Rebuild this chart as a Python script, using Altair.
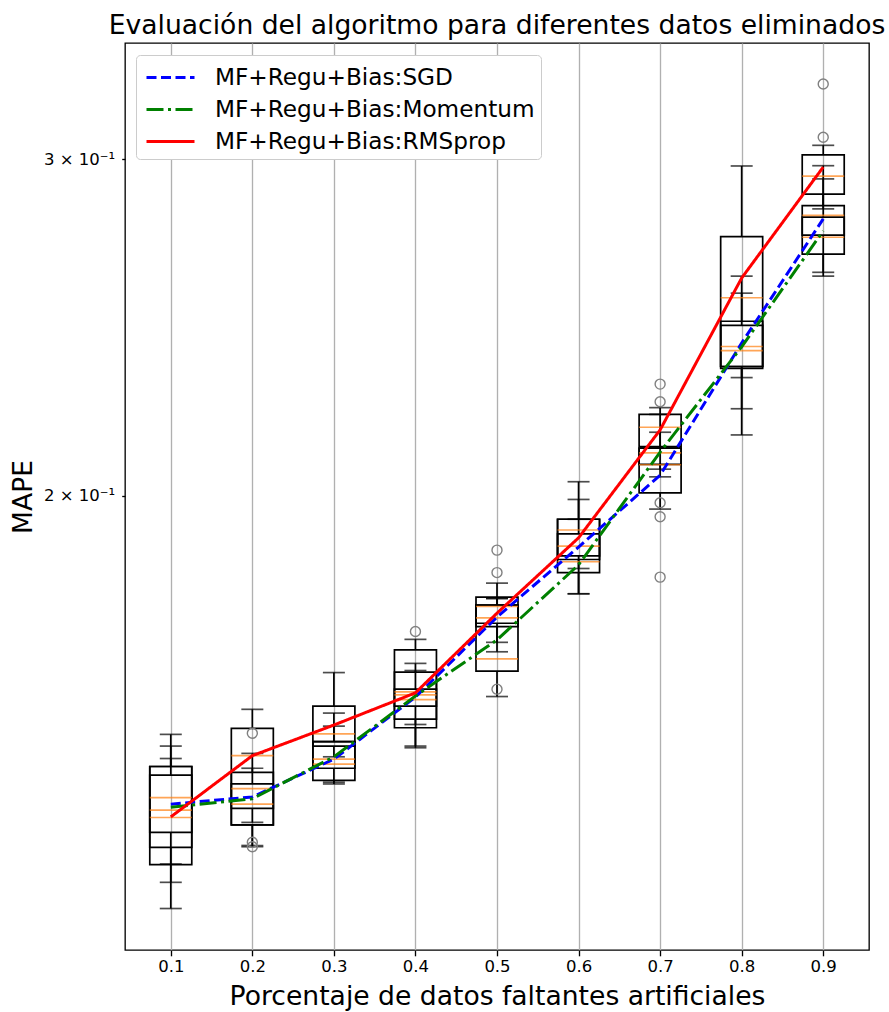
import altair as alt
import pandas as pd

positions = [0.1, 0.2, 0.3, 0.4, 0.5, 0.6, 0.7, 0.8, 0.9]
methods = ["MF+Regu+Bias:SGD", "MF+Regu+Bias:Momentum", "MF+Regu+Bias:RMSprop"]
colors = ["#0000ff", "#008000", "#ff0000"]

# Box statistics per method (whisker low, q1, median, q3, whisker high)
sgd_lo = [0.1216, 0.1349, 0.1416, 0.1479, 0.1657, 0.1832, 0.1968, 0.2221, 0.2618]
sgd_q1 = [0.1309, 0.1372, 0.1440, 0.1528, 0.1708, 0.1860, 0.2007, 0.2332, 0.2738]
sgd_med = [0.1390, 0.1405, 0.1456, 0.1573, 0.1726, 0.1882, 0.2076, 0.2394, 0.2804]
sgd_q3 = [0.1443, 0.1433, 0.1487, 0.1617, 0.1753, 0.1944, 0.2118, 0.2468, 0.2837]
sgd_hi = [0.1500, 0.1466, 0.1539, 0.1634, 0.1767, 0.1944, 0.2206, 0.2606, 0.2977]

mom_lo = [0.1283, 0.1312, 0.1413, 0.1476, 0.1570, 0.1777, 0.2065, 0.2306, 0.2606]
mom_q1 = [0.1333, 0.1345, 0.1419, 0.1512, 0.1619, 0.1823, 0.2077, 0.2337, 0.2676]
mom_med = [0.1369, 0.1379, 0.1447, 0.1564, 0.1643, 0.1847, 0.2106, 0.2382, 0.2731]
mom_q3 = [0.1443, 0.1413, 0.1487, 0.1584, 0.1770, 0.1910, 0.2118, 0.2456, 0.2798]
mom_hi = [0.1479, 0.1440, 0.1515, 0.1620, 0.1800, 0.1991, 0.2159, 0.2553, 0.2930]

rms_lo = [0.1255, 0.1310, 0.1460, 0.1518, 0.1676, 0.1777, 0.2046, 0.2152, 0.2826]
rms_q1 = [0.1282, 0.1345, 0.1479, 0.1552, 0.1715, 0.1852, 0.2122, 0.2337, 0.2877]
rms_med = [0.1357, 0.1462, 0.1501, 0.1579, 0.1750, 0.1919, 0.2172, 0.2539, 0.2940]
rms_q3 = [0.1428, 0.1511, 0.1552, 0.1661, 0.1753, 0.1944, 0.2206, 0.2733, 0.3016]
rms_hi = [0.1457, 0.1546, 0.1616, 0.1682, 0.1767, 0.2034, 0.2224, 0.2976, 0.3051]

# Outliers (position, value)
sgd_out_pos = [0.2, 0.2, 0.2, 0.4, 0.9, 0.9]
sgd_out_val = [0.1502, 0.1317, 0.1310, 0.1698, 0.3285, 0.3081]
mom_out_pos = [0.7, 0.7, 0.7, 0.7, 0.7]
mom_out_val = [0.2288, 0.2240, 0.1983, 0.1950, 0.1813]
rms_out_pos = [0.5, 0.5, 0.5]
rms_out_val = [0.1873, 0.1823, 0.1584]

# Mean lines
sgd_mean = [0.1379, 0.1391, 0.1456, 0.1569, 0.1728, 0.1880, 0.2050, 0.2404, 0.2792]
mom_mean = [0.1374, 0.1388, 0.1460, 0.1571, 0.1681, 0.1840, 0.2108, 0.2393, 0.2752]
rms_mean = [0.1358, 0.1462, 0.1517, 0.1577, 0.1736, 0.1901, 0.2165, 0.2600, 0.2972]

stats = {
    methods[0]: (sgd_lo, sgd_q1, sgd_med, sgd_q3, sgd_hi),
    methods[1]: (mom_lo, mom_q1, mom_med, mom_q3, mom_hi),
    methods[2]: (rms_lo, rms_q1, rms_med, rms_q3, rms_hi),
}
box_rows = []
for m, (lo, q1, med, q3, hi) in stats.items():
    for i, p in enumerate(positions):
        box_rows.append(dict(method=m, pos=p, lo=lo[i], q1=q1[i], med=med[i], q3=q3[i], hi=hi[i]))
box_df = pd.DataFrame(box_rows)

out_rows = []
for m, (ps, vs) in zip(methods, [(sgd_out_pos, sgd_out_val), (mom_out_pos, mom_out_val), (rms_out_pos, rms_out_val)]):
    for p, v in zip(ps, vs):
        out_rows.append(dict(method=m, pos=p, val=v))
out_df = pd.DataFrame(out_rows)

line_rows = []
for m, means in zip(methods, [sgd_mean, mom_mean, rms_mean]):
    for p, v in zip(positions, means):
        line_rows.append(dict(method=m, pos=p, mean=v))
line_df = pd.DataFrame(line_rows)

FONT = "DejaVu Sans"
xscale = alt.Scale(domain=[0.05, 0.95], nice=False, zero=False)
yscale = alt.Scale(type="log", domain=[0.11567, 0.34515], nice=False)

xaxis = alt.Axis(
    values=positions, format=".1f", grid=True, gridColor="#b0b0b0", gridWidth=1.33,
    domain=False, tickColor="black", tickSize=5.8, tickWidth=1.33,
    labelFontSize=16.5, labelFont=FONT, labelColor="black", labelPadding=3,
    title="Porcentaje de datos faltantes artificiales", titleFontSize=26.6,
    titleFont=FONT, titleFontWeight="normal", titleColor="black",
    titleBaseline="alphabetic", titleY=54,
)
yaxis = alt.Axis(
    values=[0.2, 0.3],
    labelExpr="datum.value < 0.25 ? '2 × 10⁻¹' : '3 × 10⁻¹'",
    grid=False, domain=False, tickColor="black", tickSize=3.3, tickWidth=1.33,
    labelFontSize=16.5, labelFont=FONT, labelColor="black", labelPadding=7,
    title="MAPE", titleFontSize=26.6, titleFont=FONT, titleFontWeight="normal",
    titleColor="black", titleBaseline="alphabetic", titleX=-94,
)

X = alt.X("pos:Q", scale=xscale, axis=xaxis)


def Y(field):
    return alt.Y(field, scale=yscale, axis=yaxis)


base_box = alt.Chart(box_df)

boxes = base_box.mark_bar(size=42, fill="white", fillOpacity=0, stroke="black", strokeWidth=1.7).encode(
    x=X, y=Y("q1:Q"), y2=alt.Y2("q3:Q")
)
whisk_hi = base_box.mark_rule(color="black", strokeWidth=1.7).encode(x=X, y=Y("q3:Q"), y2=alt.Y2("hi:Q"))
whisk_lo = base_box.mark_rule(color="black", strokeWidth=1.7).encode(x=X, y=Y("lo:Q"), y2=alt.Y2("q1:Q"))
cap_hi = base_box.mark_tick(orient="horizontal", size=22, thickness=1.7, color="black").encode(x=X, y=Y("hi:Q"))
cap_lo = base_box.mark_tick(orient="horizontal", size=22, thickness=1.7, color="black").encode(x=X, y=Y("lo:Q"))
medians = base_box.mark_tick(orient="horizontal", size=42, thickness=1.7, color="#ff7f0e").encode(x=X, y=Y("med:Q"))

outliers = alt.Chart(out_df).mark_point(
    shape="circle", filled=False, size=100, color="#808080", strokeWidth=1.4, opacity=1
).encode(x=X, y=Y("val:Q"))

legend = alt.Legend(
    title=None, orient="none", legendX=11, legendY=12,
    fillColor="white", strokeColor="#cccccc", cornerRadius=4, padding=6,
    symbolType="M-0.8,0H2.4", symbolSize=900, symbolStrokeWidth=3,
    labelFontSize=23.2, labelFont=FONT, labelColor="black", labelOffset=40,
    rowPadding=4, labelLimit=500,
)
lines = alt.Chart(line_df).mark_line(strokeWidth=3).encode(
    x=X,
    y=Y("mean:Q"),
    color=alt.Color("method:N", scale=alt.Scale(domain=methods, range=colors), legend=legend, sort=methods),
    strokeDash=alt.StrokeDash(
        "method:N",
        scale=alt.Scale(domain=methods, range=[[10, 4.5], [17, 4.5, 3, 4.5], [1, 0]]),
        legend=legend, sort=methods,
    ),
)

chart = alt.layer(boxes, whisk_hi, whisk_lo, cap_hi, cap_lo, medians, outliers, lines).properties(
    width=744,
    height=907,
    autosize=alt.AutoSizeParams(type="none"),
    padding={"left": 125, "top": 43, "right": 20, "bottom": 62},
    background="white",
    title=alt.TitleParams(
        text="Evaluación del algoritmo para diferentes datos eliminados",
        fontSize=26.6, font=FONT, fontWeight="normal", color="black",
        anchor="middle", frame="group", offset=8, baseline="alphabetic", dy=26,
    ),
).configure_view(stroke="black", strokeWidth=1.33)

chart.save("out.html", embed_options={"renderer": "svg", "actions": False})
